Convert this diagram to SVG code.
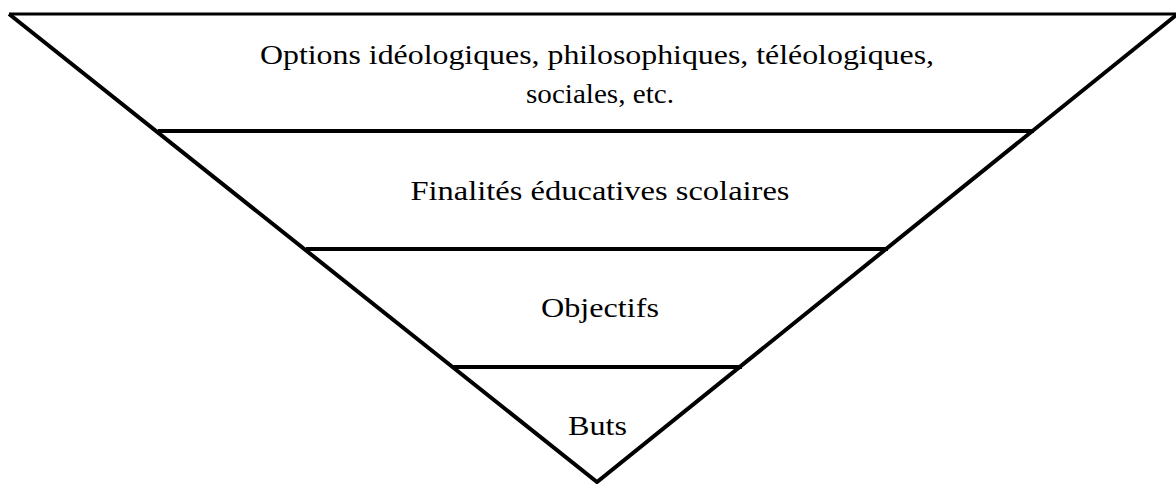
<svg xmlns="http://www.w3.org/2000/svg" width="1176" height="484" viewBox="0 0 1176 484">
<style>
.e{stroke:#000;stroke-width:4;fill:none;stroke-linecap:butt}
</style>
<rect width="1176" height="484" fill="#fff"/>
<g id="connectors">
<line x1="9" y1="14" x2="1176" y2="14" stroke="#000" stroke-width="3"/>
<polyline class="e" points="9,14 597,482 1180,12"/>
</g>
<g font-family="Liberation Serif" font-size="28" fill="#000" text-anchor="middle">
<g id="layer1"><text x="597" y="64" textLength="674" lengthAdjust="spacingAndGlyphs">Options idéologiques, philosophiques, téléologiques,</text><text x="600" y="103" textLength="148" lengthAdjust="spacingAndGlyphs">sociales, etc.</text></g>
<g id="layer2"><line class="e" x1="158" y1="131" x2="1034" y2="131"/><text x="600" y="200" textLength="379" lengthAdjust="spacingAndGlyphs">Finalités éducatives scolaires</text></g>
<g id="layer3"><line class="e" x1="306" y1="249" x2="888" y2="249"/><text x="600" y="317" textLength="118" lengthAdjust="spacingAndGlyphs">Objectifs</text></g>
<g id="layer4"><line class="e" x1="452" y1="367" x2="742" y2="367"/><text x="597.5" y="435" textLength="59" lengthAdjust="spacingAndGlyphs">Buts</text></g>
</g>
</svg>
